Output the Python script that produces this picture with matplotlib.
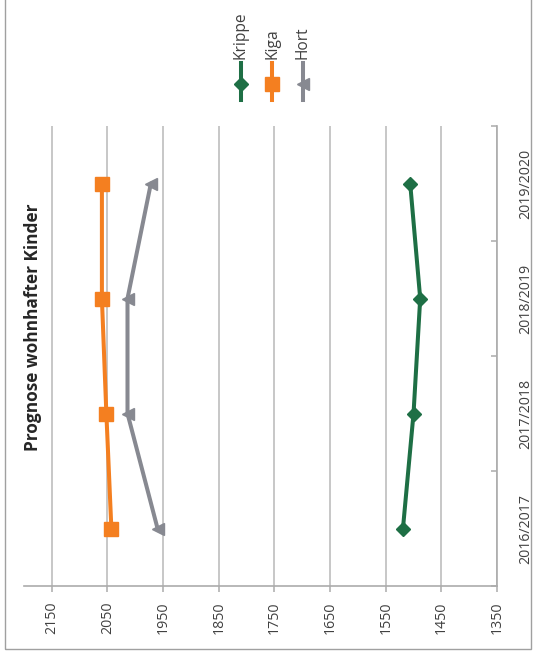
import matplotlib
matplotlib.use("Agg")
import matplotlib.pyplot as plt
from matplotlib.lines import Line2D
from matplotlib.patches import Rectangle

# Daten (Schuljahre, Anzahl Kinder)
jahre = ["2016/2017", "2017/2018", "2018/2019", "2019/2020"]
krippe = [1519, 1500, 1488, 1506]
kiga = [2043, 2052, 2060, 2060]
hort = [1960, 2014, 2014, 1972]
werte_ticks = [2150, 2050, 1950, 1850, 1750, 1650, 1550, 1450, 1350]

serien = ["Krippe", "Kiga", "Hort"]
farben = ["#1E6F45", "#F47F20", "#878991"]
marker = ["D", "s", "<"]
msize = [7, 9.5, 9]

plt.rcParams["font.family"] = ["Open Sans", "DejaVu Sans"]

W, H = 536, 653
fig = plt.figure(figsize=(W / 100, H / 100), dpi=100)

def fx(px):
    return px / W

def fy(py):
    return 1 - py / H

# Plotbereich (gedreht: Werte horizontal, Jahre vertikal)
ax = fig.add_axes([fx(24), fy(586), fx(497) - fx(24), fy(126) - fy(586)])
ax.set_xlim(2200, 1350)
ax.set_ylim(-0.5, len(jahre) - 0.5)

pos = list(range(len(jahre)))
for werte, farbe, m, ms in zip([krippe, kiga, hort], farben, marker, msize):
    ax.plot(werte, pos, color=farbe, linewidth=2.9, marker=m, markersize=ms,
            markeredgecolor=farbe, markerfacecolor=farbe, solid_capstyle="round",
            clip_on=False, zorder=3)

# Gitter
for w in werte_ticks:
    ax.axvline(w, color="#BDBDBD", linewidth=1.2, zorder=1)

for s in ["left", "top"]:
    ax.spines[s].set_visible(False)
for s in ["bottom", "right"]:
    ax.spines[s].set_color("#ABABAB")
    ax.spines[s].set_linewidth(1.2)

ax.set_xticks(werte_ticks)
ax.set_xticklabels([str(w) for w in werte_ticks], rotation=90, color="#404040",
                   fontsize=10.2)
ax.tick_params(axis="x", direction="out", length=4, width=1.1, color="#ABABAB", pad=7)

ax.yaxis.tick_right()
ax.set_yticks([p - 0.5 for p in range(len(jahre) + 1)])
ax.set_yticklabels([])
ax.set_yticks(pos, minor=True)
ax.set_yticklabels(jahre, minor=True, rotation=90, va="center", ha="left",
                   color="#404040", fontsize=10.2)
ax.tick_params(axis="y", which="major", direction="in", length=4, width=1.1,
               color="#ABABAB")
ax.tick_params(axis="y", which="minor", length=0, pad=15)

# Titel
fig.text(fx(33), fy(327), "Prognose wohnhafter Kinder", rotation=90,
         ha="center", va="center", fontsize=12.4, fontweight="bold", color="#262626")

# Legende
leg_x = [241, 272, 303]
for name, lx, farbe, m, ms in zip(serien, leg_x, farben, marker, msize):
    fig.add_artist(Line2D([fx(lx), fx(lx)], [fy(63), fy(100)], transform=fig.transFigure,
                          color=farbe, linewidth=2.9))
    fig.add_artist(Line2D([fx(lx)], [fy(84)], transform=fig.transFigure, color=farbe,
                          marker=m, markersize=ms, markeredgecolor=farbe,
                          markerfacecolor=farbe, linestyle="none"))
    fig.text(fx(lx), fy(59), name, rotation=90, ha="center", va="bottom",
             fontsize=11.2, color="#404040")

# Rahmen
fig.add_artist(Rectangle((fx(5), fy(649)), fx(531) - fx(5), 1.0, transform=fig.transFigure,
                         fill=False, edgecolor="#A0A0A0", linewidth=1.0))

fig.savefig("out.png", dpi=100)
